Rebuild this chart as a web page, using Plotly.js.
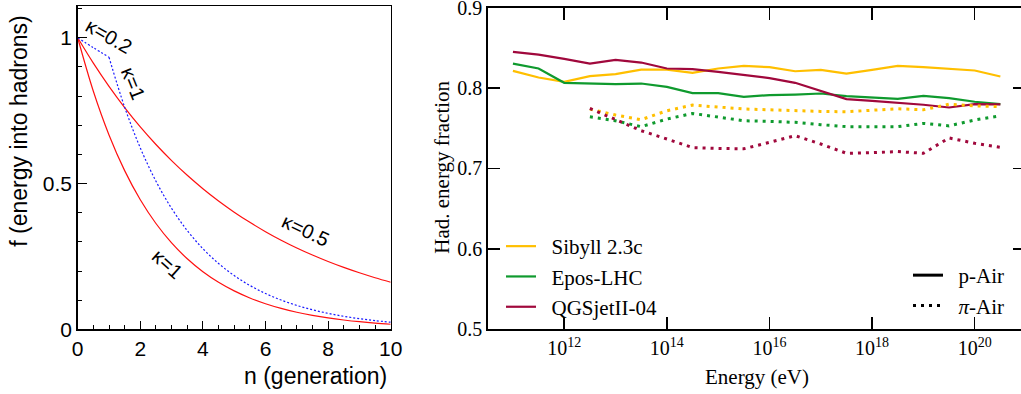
<!DOCTYPE html>
<html><head><meta charset="utf-8">
<script src="https://cdn.plot.ly/plotly-3.0.1.min.js"></script>
<style>html,body{margin:0;padding:0;overflow:hidden;background:#fff}</style>
</head><body><div id="chart"></div>
<script>
// ---- Left panel: energy fraction into hadrons vs generation ----
const nGen = [0,0.5,1,1.5,2,2.5,3,3.5,4,4.5,5,5.5,6,6.5,7,7.5,8,8.5,9,9.5,10];
const fKappa05 = [1,0.9129,0.8333,0.7607,0.6944,0.6339,0.5787,0.5283,0.4823,0.4402,0.4019,0.3669,0.3349,0.3057,0.2791,0.2548,0.2326,0.2123,0.1938,0.1769,0.1615];
const fKappa1 = [1,0.8165,0.6667,0.5443,0.4444,0.3629,0.2963,0.2419,0.1975,0.1613,0.1317,0.1075,0.0878,0.0717,0.0585,0.0478,0.0390,0.0319,0.0260,0.0212,0.0173];
const nMixFirst = [0,0.5,1];
const fMixFirst = [1,0.966,0.9333];
const nMixRest = [1,1.5,2,2.5,3,3.5,4,4.5,5,5.5,6,6.5,7,7.5,8,8.5,9,9.5,10];
const fMixRest = [0.9333,0.7620,0.6222,0.5080,0.4148,0.3387,0.2765,0.2258,0.1843,0.1505,0.1229,0.1003,0.0819,0.0669,0.0546,0.0446,0.0364,0.0297,0.0243];

// ---- Right panel: hadronic energy fraction vs energy ----
const log10E_p = [11,11.5,12,12.5,13,13.5,14,14.5,15,15.5,16,16.5,17,17.5,18,18.5,19,19.5,20,20.5];
const log10E_pi = [12.5,13,13.5,14,14.5,15,15.5,16,16.5,17,17.5,18,18.5,19,19.5,20,20.5];
const sibyll_pAir = [0.8215,0.8132,0.8078,0.8149,0.8174,0.8231,0.8231,0.8190,0.8244,0.8277,0.8260,0.8210,0.8227,0.8181,0.8227,0.8277,0.8260,0.8240,0.8219,0.8144];
const epos_pAir = [0.8305,0.8244,0.8066,0.8062,0.8050,0.8057,0.8016,0.7938,0.7938,0.7892,0.7913,0.7920,0.7933,0.7900,0.7884,0.7867,0.7904,0.7876,0.7830,0.7800];
const qgs_pAir = [0.8450,0.8417,0.8364,0.8305,0.8350,0.8318,0.8244,0.8236,0.8202,0.8160,0.8124,0.8066,0.7966,0.7863,0.7842,0.7821,0.7793,0.7759,0.7800,0.7797];
const sibyll_piAir = [0.7740,0.7665,0.7607,0.7718,0.7789,0.7768,0.7740,0.7730,0.7718,0.7710,0.7706,0.7727,0.7743,0.7730,0.7800,0.7780,0.7768];
const epos_piAir = [0.7644,0.7594,0.7520,0.7615,0.7685,0.7644,0.7594,0.7586,0.7574,0.7545,0.7520,0.7520,0.7520,0.7561,0.7530,0.7603,0.7656];
const qgs_piAir = [0.7747,0.7607,0.7470,0.7367,0.7260,0.7250,0.7245,0.7325,0.7408,0.7305,0.7189,0.7197,0.7210,0.7189,0.7380,0.7313,0.7263];
const modelNames = ['Sibyll 2.3c','Epos-LHC','QGSjetII-04'];
const modelColors = ['#FFBF00','#0F9A2E','#A0083C'];
const energyTickExp = [12,14,16,18,20];
const fracTicks = [0.5,0.6,0.7,0.8,0.9];

const W = 1030, H = 394;
const px = v => v / W, py = v => 1 - v / H;
const toE = a => a.map(v => Math.pow(10, v));
const SANS = 'Liberation Sans, Arial, sans-serif';
const SERIF = 'Liberation Serif, Times New Roman, serif';
const NB = '\u00a0\u00a0';

const traces = [];
// left panel
traces.push({x:nGen, y:fKappa05, xaxis:'x', yaxis:'y', mode:'lines', line:{color:'#FF1010', width:1.2, shape:'spline'}, showlegend:false, hoverinfo:'skip'});
traces.push({x:nGen, y:fKappa1, xaxis:'x', yaxis:'y', mode:'lines', line:{color:'#FF1010', width:1.2, shape:'spline'}, showlegend:false, hoverinfo:'skip'});
traces.push({x:nMixFirst, y:fMixFirst, xaxis:'x', yaxis:'y', mode:'lines', line:{color:'#1A1AFF', width:1.2, dash:'2px,2px', shape:'spline'}, showlegend:false, hoverinfo:'skip'});
traces.push({x:nMixRest, y:fMixRest, xaxis:'x', yaxis:'y', mode:'lines', line:{color:'#1A1AFF', width:1.2, dash:'2px,2px', shape:'spline'}, showlegend:false, hoverinfo:'skip'});

// right panel: p-Air solid
const pSeries = [sibyll_pAir, epos_pAir, qgs_pAir];
const piSeries = [sibyll_piAir, epos_piAir, qgs_piAir];
pSeries.forEach((s,i) => traces.push({x:toE(log10E_p), y:s, xaxis:'x2', yaxis:'y2', mode:'lines', name:NB+modelNames[i], line:{color:modelColors[i], width:2.2}, legend:'legend'}));
piSeries.forEach((s,i) => traces.push({x:toE(log10E_pi), y:s, xaxis:'x2', yaxis:'y2', mode:'lines', line:{color:modelColors[i], width:3, dash:'3px,5px'}, showlegend:false}));
// style legend entries
traces.push({x:[null], y:[null], xaxis:'x2', yaxis:'y2', mode:'lines', name:NB+'p-Air', line:{color:'#000', width:3}, legend:'legend2'});
traces.push({x:[null], y:[null], xaxis:'x2', yaxis:'y2', mode:'lines', name:NB+'<i>π</i>-Air', line:{color:'#000', width:3, dash:'3px,5px'}, legend:'legend2'});

const yDom = [py(329.3), py(6)];
const yDom2 = [py(329.3), py(7.5)];
const layout = {
  width:W, height:H, margin:{l:0,r:0,t:0,b:0},
  paper_bgcolor:'#fff', plot_bgcolor:'#fff', showlegend:true,
  xaxis:{domain:[px(77.7), px(390.7)], range:[0,10], anchor:'y', tick0:0, dtick:2,
    ticks:'inside', ticklen:8, tickwidth:1, tickcolor:'#000',
    minor:{dtick:0.5, ticks:'inside', ticklen:4, tickwidth:1, tickcolor:'#000'},
    showline:true, linewidth:1.5, linecolor:'#000', mirror:true, showgrid:false, zeroline:false,
    tickfont:{family:SANS, size:21, color:'#000'}},
  yaxis:{domain:yDom, range:[0,1.109], anchor:'x', tick0:0, dtick:0.5,
    ticks:'inside', ticklen:9, tickwidth:1, tickcolor:'#000',
    minor:{dtick:0.1, ticks:'inside', ticklen:4.5, tickwidth:1, tickcolor:'#000'},
    showline:true, linewidth:1.5, linecolor:'#000', mirror:true, showgrid:false, zeroline:false,
    tickfont:{family:SANS, size:21, color:'#000'}},
  xaxis2:{domain:[px(488.3), px(1025)], type:'log', range:[10.52, 20.98], anchor:'y2',
    tickvals:energyTickExp.map(p=>Math.pow(10,p)), ticktext:energyTickExp.map(p=>'10<sup>'+p+'</sup>'),
    ticks:'inside', ticklen:12, tickwidth:1.5, tickcolor:'#000',
    showline:true, linewidth:2, linecolor:'#000', mirror:'ticks', showgrid:false, zeroline:false,
    tickfont:{family:SERIF, size:20, color:'#000'}},
  yaxis2:{domain:yDom2, range:[0.4999,0.9003], anchor:'x2', tickvals:fracTicks, tickformat:'.1f',
    ticklabeloverflow:'allow',
    ticks:'inside', ticklen:12, tickwidth:1.5, tickcolor:'#000',
    showline:true, linewidth:2, linecolor:'#000', mirror:'ticks', showgrid:false, zeroline:false,
    tickfont:{family:SERIF, size:20, color:'#000'}},
  legend:{x:px(501), y:py(226), xanchor:'left', yanchor:'top', bgcolor:'rgba(0,0,0,0)',
    font:{family:SERIF, size:21, color:'#000'}, tracegroupgap:0},
  legend2:{x:px(908), y:py(255), xanchor:'left', yanchor:'top', bgcolor:'rgba(0,0,0,0)',
    font:{family:SERIF, size:21, color:'#000'}},
  annotations:[
    {text:'f (energy into hadrons)', xref:'paper', yref:'paper', x:px(19), y:py(131.7), xanchor:'center', yanchor:'middle', textangle:-90, showarrow:false, font:{family:SANS, size:23, color:'#000'}},
    {text:'n (generation)', xref:'paper', yref:'paper', x:px(389), y:py(376), xanchor:'right', yanchor:'middle', showarrow:false, font:{family:SANS, size:23, color:'#000'}},
    {text:'κ=0.2', xref:'paper', yref:'paper', x:px(108.5), y:py(36.5), xanchor:'center', yanchor:'middle', textangle:30, showarrow:false, font:{family:SANS, size:20, color:'#000'}},
    {text:'κ=1', xref:'paper', yref:'paper', x:px(133), y:py(83), xanchor:'center', yanchor:'middle', textangle:68, showarrow:false, font:{family:SANS, size:20, color:'#000'}},
    {text:'κ=0.5', xref:'paper', yref:'paper', x:px(305), y:py(230), xanchor:'center', yanchor:'middle', textangle:25, showarrow:false, font:{family:SANS, size:20, color:'#000'}},
    {text:'κ=1', xref:'paper', yref:'paper', x:px(167.5), y:py(264), xanchor:'center', yanchor:'middle', textangle:42, showarrow:false, font:{family:SANS, size:20, color:'#000'}},
    {text:'Energy (eV)', xref:'paper', yref:'paper', x:px(756.5), y:py(377), xanchor:'center', yanchor:'middle', showarrow:false, font:{family:SERIF, size:21, color:'#000'}},
    {text:'Had. energy fraction', xref:'paper', yref:'paper', x:px(442), y:py(167.7), xanchor:'center', yanchor:'middle', textangle:-90, showarrow:false, font:{family:SERIF, size:21, color:'#000'}}
  ]
};
Plotly.newPlot('chart', traces, layout, {staticPlot:true, displayModeBar:false});
</script></body></html>
